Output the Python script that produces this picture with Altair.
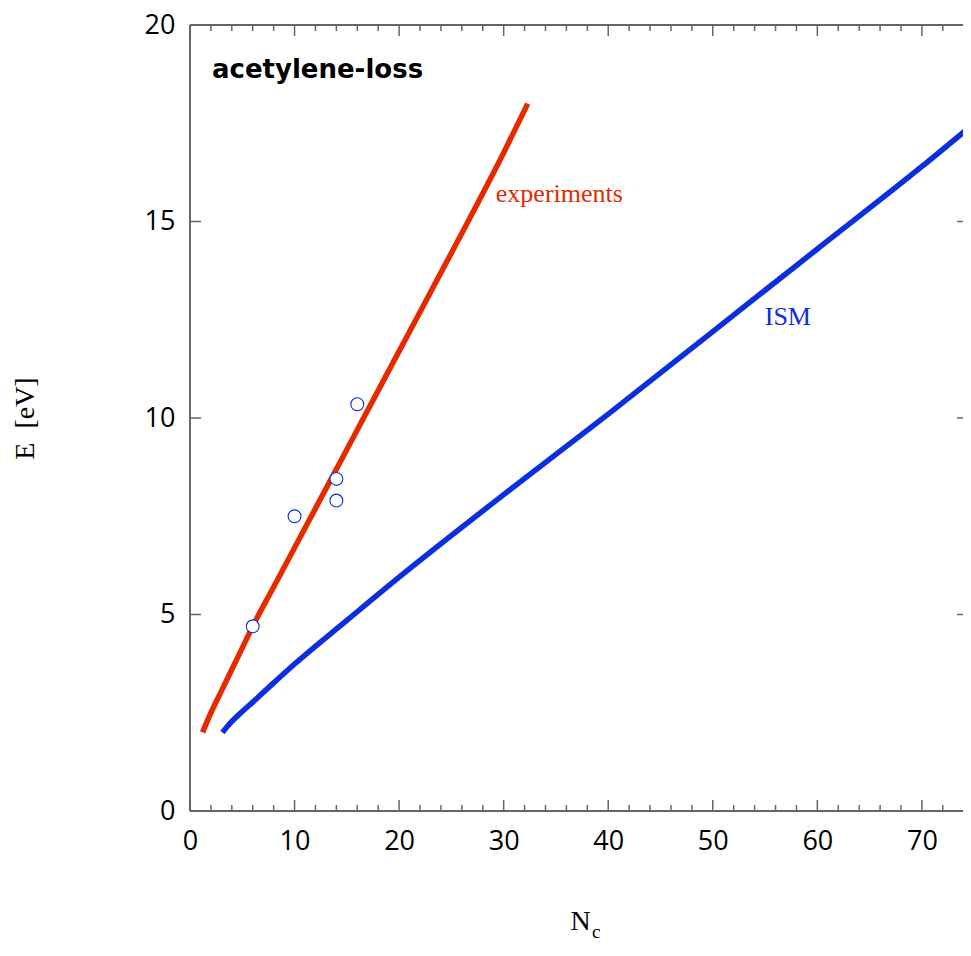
import altair as alt
import pandas as pd

# ---- data ----
exp_x = [1.2, 2, 3, 4, 5, 6, 8, 10, 15, 20, 25, 30, 32.3]
exp_e = [2.0, 2.5, 3.05, 3.6, 4.15, 4.7, 5.7, 6.7, 9.2, 11.7, 14.2, 16.75, 18.0]

ism_x = [3.1, 4, 5, 6, 8, 10, 15, 20, 30, 40, 50, 60, 70, 75]
ism_e = [2.0, 2.28, 2.53, 2.77, 3.26, 3.74, 4.85, 5.95, 8.05, 10.1, 12.2, 14.3, 16.4, 17.5]

pts_x = [6, 10, 14, 14, 16]
pts_e = [4.7, 7.5, 8.45, 7.9, 10.35]

x_major = [0, 10, 20, 30, 40, 50, 60, 70]
x_minor = [v for v in range(2, 75, 2) if v % 10 != 0]
y_major = [5, 10, 15]
y_labels = [0, 5, 10, 15, 20]

W, H = 780, 786
RED = "#e62a00"
BLUE = "#0a2ee0"
TICK = "#666666"
FRAME = "#333333"

xsc = alt.Scale(domain=[0, 74.6], nice=False, zero=False)
ysc = alt.Scale(domain=[0, 20], nice=False, zero=False)

xaxis = alt.Axis(values=x_major, title="N", tickSize=0, domain=False, grid=False,
                 labelFont="Open Sans", labelFontSize=27, labelColor="#000", labelPadding=17,
                 titleFont="Liberation Serif", titleFontSize=28, titleFontWeight="normal",
                 titleColor="#000", titlePadding=53, labelFlush=False)
yaxis = alt.Axis(values=y_labels, title="E\u00a0\u00a0[eV]", tickSize=0, domain=False, grid=False,
                 labelFont="Open Sans", labelFontSize=27, labelColor="#000", labelPadding=15,
                 titleFont="Liberation Serif", titleFontSize=28, titleFontWeight="normal",
                 titleColor="#000", titlePadding=105, labelFlush=False)

df_exp = pd.DataFrame({"x": exp_x, "y": exp_e})
df_ism = pd.DataFrame({"x": ism_x, "y": ism_e})
df_pts = pd.DataFrame({"x": pts_x, "y": pts_e})

exp_line = alt.Chart(df_exp).mark_line(color=RED, strokeWidth=5.5, clip=True,
                                       interpolate="monotone").encode(
    x=alt.X("x:Q", scale=xsc, axis=xaxis), y=alt.Y("y:Q", scale=ysc, axis=yaxis))
ism_line = alt.Chart(df_ism).mark_line(color=BLUE, strokeWidth=5.5, clip=True,
                                       interpolate="monotone").encode(
    x=alt.X("x:Q", scale=xsc), y=alt.Y("y:Q", scale=ysc))
pts = alt.Chart(df_pts).mark_point(shape="circle", size=165, filled=False, color=BLUE,
                                   fill="white", fillOpacity=1, strokeWidth=1.1).encode(
    x=alt.X("x:Q", scale=xsc), y=alt.Y("y:Q", scale=ysc))

# frame (left, top, bottom; the right side lies beyond the picture)
frame = [
    alt.Chart(pd.DataFrame({"k": [0]})).mark_rule(color=FRAME, strokeWidth=1.5).encode(
        x=alt.value(0), y=alt.value(0), y2=alt.value(H)),
    alt.Chart(pd.DataFrame({"k": [0]})).mark_rule(color=FRAME, strokeWidth=1.5).encode(
        x=alt.value(0), x2=alt.value(W + 2), y=alt.value(0)),
    alt.Chart(pd.DataFrame({"k": [0]})).mark_rule(color=FRAME, strokeWidth=1.5).encode(
        x=alt.value(0), x2=alt.value(W + 2), y=alt.value(H)),
]

# inward ticks
def xticks(vals, y0, y1):
    return alt.Chart(pd.DataFrame({"x": vals})).mark_rule(color=TICK, strokeWidth=1.5).encode(
        x=alt.X("x:Q", scale=xsc), y=alt.value(y0), y2=alt.value(y1))

def yticks(vals, x0, x1):
    return alt.Chart(pd.DataFrame({"y": vals})).mark_rule(color=TICK, strokeWidth=1.5).encode(
        y=alt.Y("y:Q", scale=ysc), x=alt.value(x0), x2=alt.value(x1))

ticks = [
    xticks(x_major, H, H - 11), xticks(x_minor, H, H - 6),
    xticks(x_major, 0, 11), xticks(x_minor, 0, 6),
    yticks(y_major, 0, 11), yticks(y_major, W - 7, W - 13),
]

# annotations
ann = pd.DataFrame({"x": [29.25], "y": [15.5], "t": ["experiments"]})
exp_txt = alt.Chart(ann).mark_text(font="Liberation Serif", fontSize=26, color=RED,
                                   align="left", baseline="alphabetic").encode(
    x=alt.X("x:Q", scale=xsc), y=alt.Y("y:Q", scale=ysc), text="t:N")
ann2 = pd.DataFrame({"x": [54.97], "y": [12.37], "t": ["ISM"]})
ism_txt = alt.Chart(ann2).mark_text(font="Liberation Serif", fontSize=26, color=BLUE,
                                    align="left", baseline="alphabetic").encode(
    x=alt.X("x:Q", scale=xsc), y=alt.Y("y:Q", scale=ysc), text="t:N")
ann3 = pd.DataFrame({"x": [2.1], "y": [18.65], "t": ["acetylene-loss"]})
title_txt = alt.Chart(ann3).mark_text(font="DejaVu Sans", fontSize=26, fontWeight="bold",
                                      color="#000", align="left", baseline="alphabetic").encode(
    x=alt.X("x:Q", scale=xsc), y=alt.Y("y:Q", scale=ysc), text="t:N")
sub = pd.DataFrame({"t": ["c"]})
sub_txt = alt.Chart(sub).mark_text(font="Liberation Serif", fontSize=19, color="#000",
                                   align="left", baseline="alphabetic").encode(
    x=alt.value(402), y=alt.value(913), text="t:N")

chart = alt.layer(exp_line, ism_line, pts, *frame, *ticks, exp_txt, ism_txt, title_txt,
                  sub_txt).properties(
    width=W, height=H,
    autosize=alt.AutoSizeParams(type="none"),
    padding={"left": 182, "top": 17, "right": -7, "bottom": 132},
    background="white",
).configure_view(strokeWidth=0)

chart.save("out.html", embed_options={"renderer": "svg", "actions": False})
